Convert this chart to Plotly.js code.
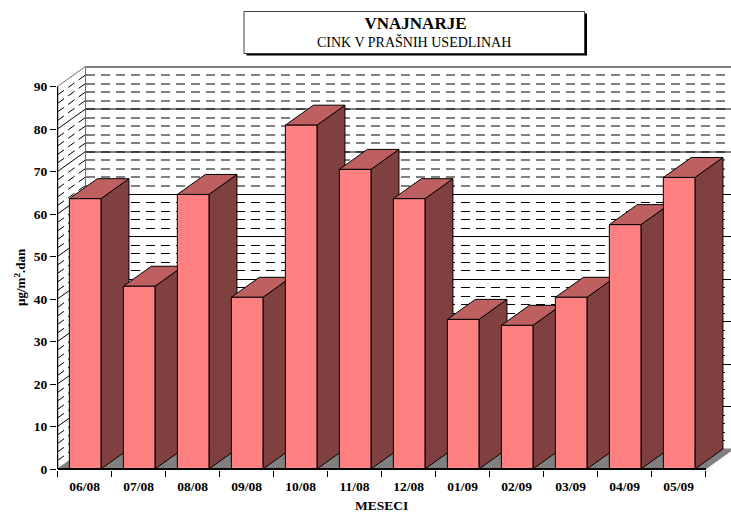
<!DOCTYPE html>
<html>
<head>
<meta charset="utf-8">
<script src="https://cdn.plot.ly/plotly-3.0.1.min.js"></script>
<style>
html,body{margin:0;padding:0;background:#fff;overflow:hidden}
#chart{width:731px;height:512px}
/* the five horizontal back-wall grid traces are drawn first: keep them on whole pixels */
.scatterlayer .trace:nth-child(-n+5) .js-line{shape-rendering:crispEdges}
</style>
</head>
<body>
<div id="chart"></div>
<script>
const months = ['06/08','07/08','08/08','09/08','10/08','11/08','12/08','01/09','02/09','03/09','04/09','05/09'];
const values = [63.6,43,64.6,40.4,80.9,70.5,63.6,35.2,33.8,40.4,57.5,68.6];
const majorGrid = [10,20,30,40,50,60,70,80,90];
const minorGrid = [2,4,6,8,12,14,16,18,22,24,26,28,32,34,36,38,42,44,46,48,52,54,56,58,62,64,66,68,72,74,76,78,82,84,86,88];
const yTicks = [0,10,20,30,40,50,60,70,80,90];
const catEdges = [-0.5,0.5,1.5,2.5,3.5,4.5,5.5,6.5,7.5,8.5,9.5,10.5,11.5];
const blackBelow = 60;      // the reference prints wall lines above this level in grey

const W = 731, H = 512, M = {l:57, r:0, t:64, b:42};
const pw = W-M.l-M.r, ph = H-M.t-M.b;
const catPx = 54, unitPx = 4.25;
const n = months.length, idx = months.map((_,i)=>i);
const xMin = -0.5, xMax = n-0.5, yMax = 90;
const xRange = [xMin-0.5/catPx, xMin-0.5/catPx+pw/catPx];
const yRange = [-1/unitPx, -1/unitPx+ph/unitPx];
const dX = 28/catPx, dV = 20/unitPx;   // oblique depth in axis units
const barW = 0.585, barShift = 0.012;

const font = 'Liberation Serif, Times New Roman, serif';
const px = x => (x-M.l)/pw, py = y => (H-M.b-y)/ph;

function hLines(vals){const x=[],y=[];vals.forEach(v=>{x.push(xMin+dX,xMax+dX,null);y.push(v+dV,v+dV,null);});return {x,y};}
function dLines(vals){const x=[],y=[];vals.forEach(v=>{x.push(xMin,xMin+dX,null);y.push(v,v+dV,null);});return {x,y};}
function line(d,color,width,dash){return {type:'scatter',mode:'lines',x:d.x,y:d.y,hoverinfo:'skip',showlegend:false,line:{color,width,dash:dash||'solid'}};}
function poly(x,y,fill,lc){return {type:'scatter',mode:'lines',x,y,fill:'toself',fillcolor:fill,hoverinfo:'skip',showlegend:false,line:{color:lc,width:1}};}

const sideX=[],sideY=[],topX=[],topY=[];
values.forEach((v,i)=>{
  const l=idx[i]+barShift-barW/2, r=idx[i]+barShift+barW/2;
  sideX.push(r,r+dX,r+dX,r,r,null); sideY.push(0,dV,v+dV,v,0,null);
  topX.push(l,l+dX,r+dX,r,l,null);  topY.push(v,v+dV,v+dV,v,v,null);
});

const dash='9px,6px';
const lowMinor=minorGrid.filter(v=>v<blackBelow), upMinor=minorGrid.filter(v=>v>blackBelow);
const lowMajor=majorGrid.filter(v=>v<=blackBelow), upMajor=majorGrid.filter(v=>v>blackBelow && v<yMax);

const traces=[
  line(hLines(lowMinor),'#000',1,dash),
  line(hLines(lowMajor),'#000',1),
  line(hLines(upMinor),'#808080',2,dash),
  line(hLines(upMajor.concat([yMax])),'#808080',2),
  line(hLines(upMajor),'#404040',2,dash),
  poly([xMin,xMax,xMax+dX,xMin+dX,xMin],[0,0,dV,dV,0],'#808080','#808080'),
  line({x:[xMin+dX,xMin+dX],y:[dV,yMax+dV]},'#707070',1),
  line(dLines(minorGrid),'#000',1,'8px,5px'),
  line(dLines(majorGrid.filter(v=>v<yMax)),'#000',1),
  line(dLines([yMax]),'#707070',1),
  line({x:[xMin,xMin],y:[0,yMax]},'#000',1.5),
  poly(sideX,sideY,'#804040','#000'),
  poly(topX,topY,'#BF6060','#000'),
  {type:'bar',x:idx,y:values,width:barW,offset:barShift-barW/2,xaxis:'x2',yaxis:'y2',hoverinfo:'skip',showlegend:false,
   marker:{color:'#FF8080',line:{color:'#000',width:1}}},
  {type:'scatter',mode:'lines',x:[xMin,xMax],y:[0,0],xaxis:'x2',yaxis:'y2',hoverinfo:'skip',showlegend:false,line:{color:'#000',width:1.5}}
];

const layout={
  width:W,height:H,autosize:false,showlegend:false,hovermode:false,dragmode:false,
  paper_bgcolor:'#fff',plot_bgcolor:'rgba(0,0,0,0)',
  margin:{l:M.l,r:M.r,t:M.t,b:M.b,pad:0,autoexpand:false},
  font:{family:font,color:'#000'},
  title:{text:'<b>VNAJNARJE</b>',xref:'container',yref:'container',x:415.5/W,y:1-23.5/H,xanchor:'center',yanchor:'middle',font:{family:font,size:17,color:'#000'}},
  xaxis:{type:'linear',range:xRange,fixedrange:true,showgrid:false,zeroline:false,showline:false,
    tickmode:'array',tickvals:idx,ticktext:months.map(m=>'<b>'+m+'</b>'),ticks:'outside',ticklen:4,tickcolor:'rgba(0,0,0,0)',tickfont:{family:font,size:13.5,color:'#000'},
    minor:{tickmode:'array',tickvals:catEdges,ticks:'outside',ticklen:6,tickcolor:'#000',tickwidth:1,showgrid:false}},
  yaxis:{type:'linear',range:yRange,fixedrange:true,showgrid:false,zeroline:false,showline:false,
    tickmode:'array',tickvals:yTicks,ticktext:yTicks.map(t=>'<b>'+t+'</b>'),ticks:'outside',ticklen:6,tickcolor:'#000',tickwidth:1,tickfont:{family:font,size:13.5,color:'#000'}},
  xaxis2:{overlaying:'x',range:xRange,visible:false,fixedrange:true},
  yaxis2:{overlaying:'y',range:yRange,visible:false,fixedrange:true},
  shapes:[
    {type:'rect',xref:'paper',yref:'paper',x0:px(246.5),x1:px(587),y0:py(13.5),y1:py(55.5),fillcolor:'#000',line:{width:0}},
    {type:'rect',xref:'paper',yref:'paper',x0:px(244),x1:px(584.5),y0:py(11.5),y1:py(53.5),fillcolor:'#fff',line:{color:'#404040',width:1}}
  ],
  annotations:[
    {text:'CINK V PRAŠNIH USEDLINAH',xref:'paper',yref:'paper',x:px(413.5),y:py(42.5),xanchor:'center',yanchor:'middle',showarrow:false,font:{family:font,size:14,color:'#000'}},
    {text:'<b>MESECI</b>',xref:'paper',yref:'paper',x:px(381.5),y:py(505),xanchor:'center',yanchor:'middle',showarrow:false,font:{family:font,size:13.5,color:'#000'}},
    {text:'<b>µg/m<sup>2</sup>.dan</b>',xref:'paper',yref:'paper',x:px(19.5),y:py(277.5),xanchor:'center',yanchor:'middle',textangle:-90,showarrow:false,font:{family:font,size:13,color:'#000'}}
  ]
};
Plotly.newPlot('chart',traces,layout,{displayModeBar:false,staticPlot:true});
</script>
</body>
</html>
